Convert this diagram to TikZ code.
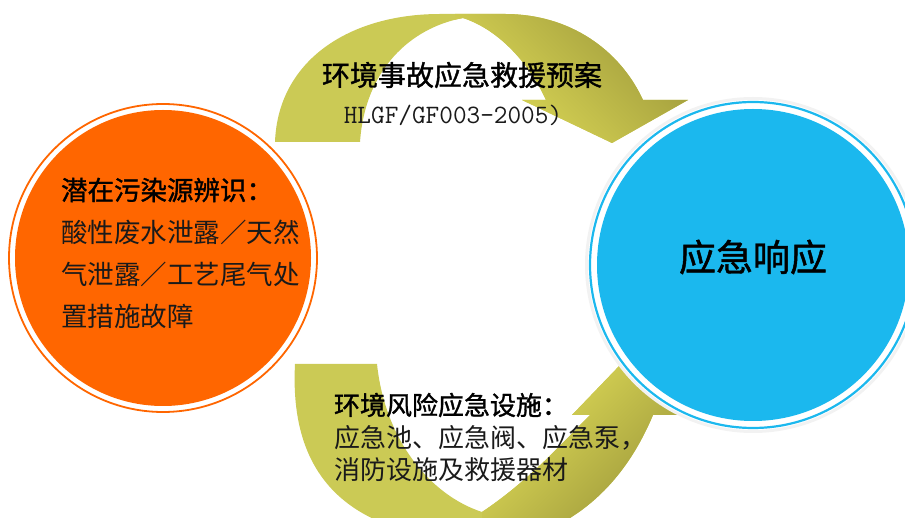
\documentclass[tikz,border=0pt]{standalone}
\usepackage{fontspec}
\newfontfamily\cjk{Noto Sans CJK SC}
\newfontfamily\cjkb[FakeBold=1.2]{Noto Sans CJK SC}
\definecolor{orng}{HTML}{FF6600}
\definecolor{sky}{HTML}{1BB8EE}
\definecolor{olivebase}{HTML}{CBCA55}
\definecolor{olivedk}{HTML}{928D36}
\definecolor{olivelt}{HTML}{EEEB5E}
\definecolor{txt}{HTML}{1A1A1A}
\def\toparrow{(275,142) .. controls (278,60) and (350,14) .. (440,14) -- (505,14) .. controls (570,14) and (620,50) .. (643,100) -- (688,100) -- (612,143) -- (522,100) -- (546,100) .. controls (530,65) and (500,30) .. (463,18) .. controls (410,28) and (365,70) .. (360,142) -- cycle}
\def\botarrow{(295,364) -- (377,364) .. controls (385,440) and (430,495) .. (482,512) .. controls (530,480) and (565,440) .. (590,415) -- (572,415) -- (622,363) -- (695,415) -- (653,415) .. controls (630,470) and (590,520) .. (520,540) .. controls (330,550) and (290,460) .. (295,364) -- cycle}
\begin{document}
\begin{tikzpicture}[x=1pt,y=-1pt,
  every node/.style={inner sep=0pt, outer sep=0pt},
  headtxt/.style={font=\cjkb\fontsize{26.5}{30}\selectfont, text=black, anchor=west},
  bodytxt/.style={font=\cjk\fontsize{26.5}{30}\selectfont, text=txt, anchor=west},
  bothead/.style={font=\cjkb\fontsize{26}{30}\selectfont, text=black, anchor=west},
  botbody/.style={font=\cjk\fontsize{26}{30}\selectfont, text=txt, anchor=west}]
\useasboundingbox (0,0) rectangle (905,518);
\clip (0,0) rectangle (905,518);
% top curved arrow
\fill[olivebase] \toparrow;
\begin{scope}
  \clip \toparrow;
  \clip (455,0) rectangle (720,160);
  \shade[top color=olivedk, bottom color=olivelt, shading angle=-45] (450,-40) rectangle (710,220);
\end{scope}
% bottom curved arrow
\fill[olivebase] \botarrow;
\begin{scope}
  \clip \botarrow;
  \clip (482,340) rectangle (720,560);
  \shade[top color=olivedk, bottom color=olivelt, shading angle=-135] (470,320) rectangle (710,560);
\end{scope}
% left circle
\node[circle, fill=orng, minimum size=296pt] (src) at (163,258) {};
\draw[orng, line width=1.8pt] (src.center) circle (154);
% right circle
\fill[black!5] (753,265) circle (168);
\fill[white] (753,265) circle (165);
\draw[sky, line width=2.2pt] (753,265) circle (163);
\node[circle, fill=sky, minimum size=312pt] (resp) at (753,265) {};
% texts
\node[headtxt] (s1) at (61,190) {潜在污染源辨识：};
\node[bodytxt] (s2) at (61,232) {酸性废水泄露／天然};
\node[bodytxt] (s3) at (61,274) {气泄露／工艺尾气处};
\node[bodytxt] (s4) at (61,316) {置措施故障};
\node[font=\cjkb\fontsize{37}{40}\selectfont, text=black] (r1) at (753,257) {应急响应};
\node[font=\cjkb\fontsize{28}{30}\selectfont, text=black] (t1) at (462,75) {环境事故应急救援预案};
\node[font=\ttfamily\fontsize{26.5}{28}\selectfont, text=txt] (t2) at (453,115) {HLGF/GF003-2005)};
\node[bothead] (b1) at (334,405) {环境风险应急设施：};
\node[botbody] (b2) at (334,438) {应急池、应急阀、应急泵，};
\node[botbody] (b3) at (334,470) {消防设施及救援器材};
\end{tikzpicture}
\end{document}
